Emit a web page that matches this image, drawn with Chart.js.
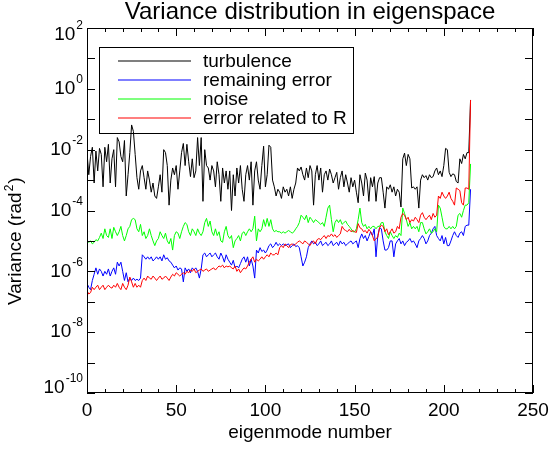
<!DOCTYPE html>
<html>
<head>
<meta charset="utf-8">
<title>Variance distribution in eigenspace</title>
<script src="https://cdn.jsdelivr.net/npm/chart.js@4.4.1/dist/chart.umd.min.js"></script>
<style>
  html, body { margin: 0; padding: 0; background: #fff; }
  #wrap { width: 549px; height: 449px; }
</style>
</head>
<body>
<div id="wrap"><canvas id="chart" width="549" height="449"></canvas></div>
<script>
// variance per eigenmode (mode 0..215)
const turbulence = [
  8e-3, 1.5e-3, 6e-3, 1.2e-2, 8e-4, 9e-3, 2e-3, 1.1e-2, 7e-3, 6e-4,
  1.2e-2, 4e-3, 1.5e-2, 8e-4, 5e-3, 1e-2, 6e-4, 2.5e-2, 1.8e-2, 6e-3,
  4e-3, 2e-2, 3e-4, 1.5e-3, 8e-3, 6.5e-2, 4e-2, 7e-3, 1.2e-3, 5e-4,
  2e-3, 3e-3, 1.2e-3, 5e-4, 2e-3, 1e-3, 4e-4, 8e-4, 3e-4, 2.5e-4,
  6e-4, 1.5e-3, 4e-4, 1e-2, 8e-3, 3e-3, 1.5e-4, 1e-3, 2.5e-3, 1.5e-3,
  3e-3, 5e-4, 2e-3, 8e-3, 1.6e-2, 3e-3, 1.5e-2, 4e-3, 1.3e-3, 5e-3,
  1.2e-3, 2e-3, 2.5e-2, 3e-3, 2.5e-2, 2e-4, 1e-2, 3e-3, 2.5e-3, 1e-3,
  3e-3, 2e-3, 6e-4, 4e-3, 1.5e-3, 2e-4, 2.5e-3, 8e-4, 2e-3, 5e-4,
  2e-3, 1e-4, 1.5e-3, 3e-4, 2.5e-3, 8e-4, 3e-3, 5e-4, 2e-4, 1.5e-3,
  3e-3, 1e-3, 4e-3, 1.5e-4, 2e-3, 4e-3, 1e-3, 5e-4, 3e-3, 1.3e-2,
  6e-4, 1.5e-3, 1.4e-2, 1.2e-2, 1e-3, 6e-4, 3e-4, 5e-4, 4e-4, 2.5e-4,
  6e-4, 4e-4, 5e-4, 3e-4, 6e-4, 2.5e-4, 5e-4, 8e-4, 2.5e-3, 2e-3,
  2.7e-3, 1.5e-3, 1e-3, 2.5e-3, 1.2e-3, 3e-3, 2e-3, 1.5e-4, 1.5e-3, 3e-3,
  1e-3, 2.5e-3, 4e-4, 1.5e-3, 2e-3, 1e-3, 2.3e-3, 1.5e-3, 8e-4, 1.2e-3,
  1.8e-3, 5e-4, 1.2e-3, 2e-3, 6e-4, 1.5e-3, 8e-4, 4e-4, 1.2e-3, 6e-4,
  1e-3, 4e-4, 1.8e-4, 1.5e-3, 8e-4, 3e-4, 1.7e-3, 1e-3, 2e-4, 1.2e-3,
  6e-4, 1.3e-3, 2e-4, 8e-4, 1.2e-3, 1.2e-3, 4e-4, 1.2e-4, 6e-4, 5e-4,
  7e-4, 4e-4, 6e-4, 3e-4, 5e-4, 4e-4, 1.3e-4, 5e-3, 7.7e-3, 3e-3,
  7e-3, 5e-3, 5.5e-4, 6e-4, 5e-4, 6e-4, 1.2e-4, 1e-3, 1.5e-3, 1.2e-3,
  1.4e-3, 1e-3, 1.5e-3, 1.2e-3, 1.3e-3, 2e-3, 2.5e-3, 1.5e-3, 2e-3, 1.3e-3,
  3e-3, 1.1e-2, 1e-2, 1.8e-3, 1.3e-3, 1.6e-3, 1.5e-3, 9e-4, 8e-4, 5e-3,
  3.5e-3, 7e-3, 5e-3, 8e-3, 8e-3, 0.43
];

const remainingError = [
  4e-7, 3e-7, 2.5e-7, 5e-7, 8e-7, 1.3e-6, 8e-7, 1.2e-6, 1e-6, 7e-7,
  1e-6, 8e-7, 1.2e-6, 7e-7, 1e-6, 1.3e-6, 8e-7, 2e-6, 1.5e-6, 2e-6,
  1e-6, 5e-7, 9e-7, 4.5e-7, 6e-7, 5e-7, 6e-7, 5e-7, 5.5e-7, 5e-7,
  6e-7, 3.5e-6, 3e-6, 2.5e-6, 3e-6, 2.5e-6, 3e-6, 2.2e-6, 2.5e-6, 3e-6,
  2.5e-6, 3e-6, 2.2e-6, 3.5e-6, 2.5e-6, 2.8e-6, 2.2e-6, 2e-6, 1.6e-6, 1.3e-6,
  1.5e-6, 1.1e-6, 1.3e-6, 1.2e-6, 4.5e-7, 1.3e-6, 1e-6, 1.2e-6, 9e-7, 1.3e-6,
  1.1e-6, 1.3e-6, 1e-6, 6e-7, 1.2e-6, 3.5e-6, 4e-6, 3e-6, 3.5e-6, 4e-6,
  3e-6, 3.5e-6, 4e-6, 3e-6, 2.5e-6, 4e-6, 3e-6, 2e-6, 3.5e-6, 2.5e-6,
  2e-6, 1.6e-6, 2.3e-6, 1.3e-6, 1.5e-6, 1.3e-6, 1.8e-6, 2.5e-6, 3e-6, 2e-6,
  3e-6, 1.5e-6, 2.5e-6, 1.5e-6, 6e-7, 5e-6, 4e-6, 6e-6, 4.5e-6, 5e-6,
  4e-6, 5e-6, 7e-6, 8e-6, 6e-6, 7e-6, 9e-6, 7e-6, 8e-6, 7e-6,
  8e-6, 7e-6, 7.5e-6, 8e-6, 6e-6, 7e-6, 8e-6, 6.5e-6, 7e-6, 6e-6,
  3e-6, 1.5e-6, 2e-6, 3e-6, 6e-6, 8e-6, 1e-5, 8e-6, 9e-6, 7e-6,
  8e-6, 1e-5, 7e-6, 8e-6, 9e-6, 7e-6, 8e-6, 1e-5, 7e-6, 8e-6,
  9e-6, 7e-6, 1e-5, 8e-6, 9e-6, 7e-6, 8e-6, 9e-6, 1e-5, 8e-6,
  9e-6, 1e-5, 6e-6, 1.2e-5, 1.7e-5, 1.2e-5, 1.5e-5, 1e-5, 1.4e-5, 2e-5,
  1.5e-5, 2.5e-5, 3e-6, 1.5e-5, 2.7e-5, 2.5e-5, 1e-5, 5e-6, 5e-6, 6e-6,
  1e-5, 1e-5, 3e-6, 8e-6, 1e-5, 1.2e-5, 8e-6, 1e-5, 7e-6, 9e-6,
  1e-5, 1.2e-5, 9e-6, 1e-5, 8e-6, 6e-6, 1e-5, 1.2e-5, 1.5e-5, 1.2e-5,
  8e-6, 1e-5, 1.5e-5, 1.8e-5, 2.5e-5, 3e-5, 1.5e-5, 1.2e-5, 1e-5, 1.5e-5,
  8e-6, 1.3e-5, 7e-6, 7e-6, 1e-5, 1.5e-5, 2e-5, 1.5e-5, 1.3e-5, 1.8e-5,
  2e-5, 1.5e-5, 3e-5, 3.3e-5, 3.3e-5, 5e-4
];

const noise = [
  1e-5, 9e-6, 1e-5, 8e-6, 9e-6, 1.1e-5, 1e-5, 1.3e-5, 1.8e-5, 1.2e-5,
  2.5e-5, 1.5e-5, 1.3e-5, 2.5e-5, 1.2e-5, 2.8e-5, 2e-5, 1.5e-5, 2e-5, 3e-5,
  1.5e-5, 1e-5, 1.5e-5, 2.5e-5, 3e-5, 5e-5, 5.5e-5, 5e-5, 2.5e-5, 2e-5,
  3.5e-5, 1.5e-5, 2e-5, 1.2e-5, 1.5e-5, 2.5e-5, 1.5e-5, 1e-5, 7e-6, 1e-5,
  1.2e-5, 2e-5, 1.5e-5, 1.2e-5, 1.8e-5, 1e-5, 8e-6, 1.2e-5, 5e-6, 1.5e-5,
  2e-5, 1.8e-5, 1.2e-5, 2e-5, 3e-5, 4e-5, 3.5e-5, 2e-5, 1.5e-5, 2.5e-5,
  2e-5, 1.5e-5, 2.5e-5, 1.8e-5, 1.5e-5, 2e-5, 4e-5, 5.5e-5, 3e-5, 4.5e-5,
  2e-5, 1.5e-5, 2.5e-5, 1.5e-5, 2e-5, 1e-5, 9e-6, 2e-5, 3e-5, 1.5e-5,
  1.2e-5, 1.5e-5, 6e-6, 1e-5, 1.2e-5, 1.5e-5, 1e-5, 1.8e-5, 2e-5, 1.5e-5,
  2e-5, 2.5e-5, 2e-5, 2.5e-5, 6.5e-5, 1e-5, 2.5e-5, 2e-5, 2.5e-5, 5e-5,
  3e-5, 5.5e-5, 3e-5, 5e-5, 2.5e-5, 2e-5, 2.2e-5, 2e-5, 2e-5, 1.8e-5,
  2e-5, 1.8e-5, 2e-5, 2.2e-5, 2e-5, 1.8e-5, 2e-5, 2.5e-5, 3e-5, 4e-5,
  7e-5, 6e-5, 5e-5, 7e-5, 4e-5, 6e-5, 5e-5, 4e-5, 5e-5, 4.5e-5,
  4e-5, 3.5e-5, 4e-5, 3e-5, 6e-5, 1.2e-4, 1.5e-4, 5e-5, 2e-5, 4e-5,
  5e-5, 4e-5, 5e-5, 3.5e-5, 4e-5, 4.5e-5, 3.5e-5, 3e-5, 2.5e-5, 2e-5,
  2e-5, 2.5e-5, 5e-5, 1.2e-4, 4e-5, 3e-5, 3.5e-5, 2.5e-5, 3e-5, 2.5e-5,
  3e-5, 3e-5, 2.5e-5, 3e-5, 3e-5, 4e-5, 4e-5, 2e-5, 1.5e-5, 1.2e-5,
  2e-5, 1.5e-5, 1.2e-5, 1.5e-5, 1.3e-5, 1.8e-5, 1.5e-5, 1.2e-4, 8e-5, 5e-5,
  3e-5, 4e-5, 2.5e-5, 3e-5, 2.5e-5, 3e-5, 2e-5, 4e-5, 4e-5, 2.5e-5,
  1.7e-5, 2e-5, 2.5e-5, 1.8e-5, 2e-5, 2.5e-5, 2e-5, 1.5e-4, 1.2e-4, 6e-5,
  3e-5, 2.5e-5, 2.5e-5, 3e-5, 2.5e-5, 3e-5, 2.5e-5, 3e-5, 7e-5, 8e-5,
  6e-5, 1e-4, 1.5e-4, 1.5e-4, 1.8e-4, 3.4e-3
];

const errorR = [
  2.3e-7, 1.8e-7, 2e-7, 3e-7, 2.5e-7, 3e-7, 3.5e-7, 2.5e-7, 3e-7, 3.5e-7,
  2.5e-7, 3e-7, 3.5e-7, 3e-7, 2.8e-7, 3.5e-7, 3e-7, 4e-7, 3e-7, 2.5e-7,
  4e-7, 3e-7, 2.5e-7, 3.5e-7, 6.5e-7, 4.5e-7, 3e-7, 4e-7, 3e-7, 3.5e-7,
  3e-7, 5e-7, 6e-7, 5e-7, 7e-7, 6e-7, 5.5e-7, 7e-7, 6e-7, 5e-7,
  6e-7, 7e-7, 5.5e-7, 6e-7, 7e-7, 6e-7, 5e-7, 6.5e-7, 8e-7, 7e-7,
  9e-7, 8e-7, 7e-7, 8e-7, 9e-7, 8e-7, 1e-6, 9e-7, 1.1e-6, 1e-6,
  1.2e-6, 9e-7, 1e-6, 1.1e-6, 1.2e-6, 1e-6, 1.1e-6, 1.2e-6, 1e-6, 1.1e-6,
  1.2e-6, 1.3e-6, 1.1e-6, 1.3e-6, 1.5e-6, 1.4e-6, 1.6e-6, 1.3e-6, 1.5e-6, 1.4e-6,
  1.5e-6, 1.3e-6, 1.2e-6, 1.5e-6, 1e-6, 1.2e-6, 9e-7, 1.1e-6, 1.3e-6, 1.2e-6,
  1.5e-6, 2e-6, 2.5e-6, 3e-6, 2e-6, 2.5e-6, 2.2e-6, 2.5e-6, 3e-6, 2.5e-6,
  3e-6, 3.5e-6, 3e-6, 4e-6, 3.5e-6, 3.5e-6, 4e-6, 3.5e-6, 6e-6, 7e-6,
  6e-6, 8e-6, 7e-6, 6e-6, 7.5e-6, 8e-6, 7e-6, 8e-6, 9e-6, 1e-5,
  9e-6, 8e-6, 1e-5, 9e-6, 8e-6, 7e-6, 9e-6, 1e-5, 8e-6, 1.1e-5,
  1.2e-5, 1.1e-5, 1.3e-5, 1.5e-5, 1.2e-5, 1.5e-5, 1.4e-5, 1.7e-5, 1.4e-5, 1.6e-5,
  1.3e-5, 1.5e-5, 1.7e-5, 3e-5, 2.4e-5, 2.2e-5, 2e-5, 2.4e-5, 2e-5, 2.2e-5,
  2e-5, 1.9e-5, 3.7e-5, 2.7e-5, 2.5e-5, 2e-5, 2.2e-5, 1.8e-5, 2.4e-5, 2e-5,
  1.5e-5, 1e-5, 1.2e-5, 1.3e-5, 2.7e-5, 3.3e-5, 3e-5, 2e-5, 2.5e-5, 1.6e-5,
  2e-5, 2.5e-5, 1.8e-5, 2e-5, 3e-5, 2.5e-5, 6e-5, 8e-5, 7e-5, 5e-5,
  6e-5, 4e-5, 5e-5, 4.5e-5, 6e-5, 5e-5, 4e-5, 7e-5, 8.5e-5, 6e-5,
  5e-5, 6e-5, 7e-5, 5e-5, 8e-5, 6e-5, 7e-5, 3e-4, 2.5e-4, 4e-4,
  3e-4, 2.5e-4, 3e-4, 4e-4, 2.5e-4, 2e-4, 1.5e-4, 5.5e-4, 5e-4, 4.5e-4,
  1.8e-4, 1.5e-4, 5.5e-4, 5.5e-4, 5e-4, 0.43
];

const seriesNames = ['turbulence', 'remaining error', 'noise', 'error related to R'];
const seriesColors = ['#000000', '#0000ff', '#00ff00', '#ff0000'];
const seriesValues = [turbulence, remainingError, noise, errorR];

const yTickExponents = ['-10', '-8', '-6', '-4', '-2', '0', '2'];
const yMinorExponents = [-10, -9, -8, -7, -6, -5, -4, -3, -2, -1, 0, 1, 2];

const FONT = '"Liberation Sans", Arial, Helvetica, sans-serif';

// axis frame, inside ticks on all four sides, y labels with superscripts, legend box
const idlDecor = {
    id: 'idlDecor',
    afterDraw(chart) {
        const ctx = chart.ctx;
        const a = chart.chartArea;
        const xs = chart.scales.x;
        const ys = chart.scales.y;

        ctx.save();
        ctx.strokeStyle = '#000';
        ctx.lineWidth = 1;
        ctx.strokeRect(a.left + 0.5, a.top + 0.5, a.right - a.left - 1, a.bottom - a.top - 1);

        ctx.beginPath();
        for (let v = 0; v <= 250; v += 10) {
            const px = Math.round(xs.getPixelForValue(v)) + 0.5;
            const len = v % 50 === 0 ? 8 : 4;
            ctx.moveTo(px, a.bottom);
            ctx.lineTo(px, a.bottom - len);
            ctx.moveTo(px, a.top);
            ctx.lineTo(px, a.top + len);
        }
        yMinorExponents.forEach(e => {
            const py = Math.round(ys.getPixelForValue(Math.pow(10, e))) + 0.5;
            ctx.moveTo(a.left, py);
            ctx.lineTo(a.left + 8, py);
            ctx.moveTo(a.right, py);
            ctx.lineTo(a.right - 8, py);
        });
        ctx.stroke();

        // y tick labels: 10 with a raised exponent
        ctx.fillStyle = '#000';
        ctx.textBaseline = 'middle';
        ctx.textAlign = 'right';
        yTickExponents.forEach(e => {
            const py = ys.getPixelForValue(Math.pow(10, Number(e)));
            const cy = Math.min(Math.max(py, a.top + 7), a.bottom - 5.5);
            ctx.font = '12px ' + FONT;
            ctx.fillText(e, a.left - 4, cy - 9);
            const w = ctx.measureText(e).width;
            ctx.font = '19px ' + FONT;
            ctx.fillText('10', a.left - 5 - w, cy);
        });

        // y axis title
        ctx.save();
        ctx.translate(21, 305);
        ctx.rotate(-Math.PI / 2);
        ctx.textAlign = 'left';
        ctx.textBaseline = 'alphabetic';
        ctx.font = '19px ' + FONT;
        ctx.fillText('Variance (rad', 0, 0);
        const w1 = ctx.measureText('Variance (rad').width;
        ctx.font = '12px ' + FONT;
        ctx.fillText('2', w1 + 1, -8);
        const w2 = ctx.measureText('2').width;
        ctx.font = '19px ' + FONT;
        ctx.fillText(')', w1 + w2 + 2, 0);
        ctx.restore();

        // legend
        ctx.strokeStyle = '#000';
        ctx.strokeRect(99.5, 47.5, 254, 86);
        ctx.font = '19px ' + FONT;
        ctx.textAlign = 'left';
        ctx.textBaseline = 'middle';
        seriesNames.forEach((name, i) => {
            const ry = 61 + i * 19;
            ctx.strokeStyle = seriesColors[i];
            ctx.lineWidth = 1.2;
            ctx.beginPath();
            ctx.moveTo(118, ry);
            ctx.lineTo(191, ry);
            ctx.stroke();
            ctx.fillText(name, 203, ry + 1);
        });
        ctx.restore();
    }
};

const datasets = seriesValues.map((vals, i) => ({
    label: seriesNames[i],
    data: vals.map((v, k) => ({ x: k, y: v })),
    borderColor: seriesColors[i],
    backgroundColor: seriesColors[i],
    borderWidth: 1,
    pointRadius: 0,
    tension: 0,
    fill: false,
    order: 4 - i
}));

new Chart(document.getElementById('chart'), {
    type: 'line',
    data: { datasets },
    options: {
        responsive: false,
        animation: false,
        devicePixelRatio: 1,
        layout: { padding: { left: 0, right: 16, top: 0, bottom: 0 } },
        plugins: {
            legend: { display: false },
            tooltip: { enabled: false },
            title: {
                display: true,
                text: 'Variance distribution in eigenspace',
                color: '#000',
                fullSize: false,
                font: { family: FONT, size: 24, weight: 'normal', lineHeight: 1 },
                padding: { top: 0, bottom: 4 }
            }
        },
        scales: {
            x: {
                type: 'linear',
                min: 0,
                max: 250,
                grid: { display: false, drawTicks: false },
                border: { display: false },
                ticks: {
                    stepSize: 50,
                    maxRotation: 0,
                    padding: 6,
                    color: '#000',
                    font: { family: FONT, size: 19 }
                },
                title: {
                    display: true,
                    text: 'eigenmode number',
                    color: '#000',
                    font: { family: FONT, size: 19 },
                    padding: { top: 0, bottom: 5 }
                },
                afterFit(scale) {
                    scale.height = 56;
                    scale.paddingLeft = 0;
                    scale.paddingRight = 0;
                }
            },
            y: {
                type: 'logarithmic',
                min: 1e-10,
                max: 1e2,
                grid: { display: false, drawTicks: false },
                border: { display: false },
                ticks: { display: false },
                afterFit(scale) {
                    scale.width = 87;
                    scale.paddingTop = 0;
                    scale.paddingBottom = 0;
                }
            }
        }
    },
    plugins: [idlDecor]
});
</script>
</body>
</html>
